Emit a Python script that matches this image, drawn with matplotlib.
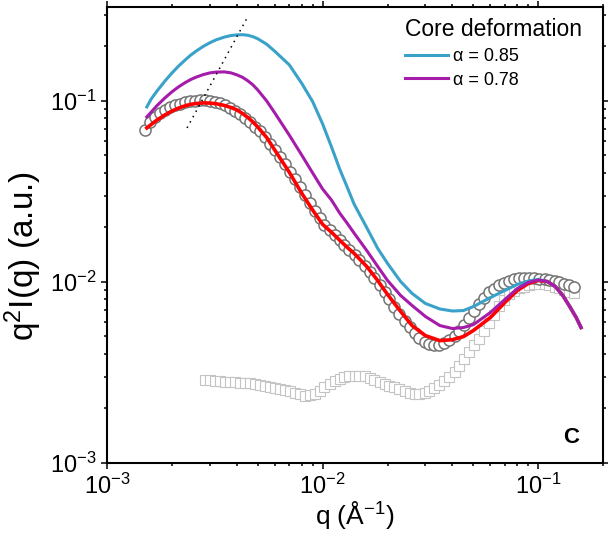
import matplotlib
matplotlib.use('Agg')
import matplotlib.pyplot as plt
from matplotlib.lines import Line2D

plt.rcParams['font.family'] = ['Liberation Sans', 'DejaVu Sans']
plt.rcParams['mathtext.default'] = 'regular'

# measured data, open circles (dark gray)
circ_q = [0.00150, 0.00158, 0.00167, 0.00176, 0.00186, 0.00196, 0.00206, 0.00218, 0.00230, 0.00242,
          0.00256, 0.00270, 0.00284, 0.00300, 0.00316, 0.00334, 0.00352, 0.00371, 0.00391, 0.00413,
          0.00435, 0.00459, 0.00484, 0.00511, 0.00539, 0.00568, 0.00600, 0.00632, 0.00667, 0.00704,
          0.00742, 0.00783, 0.00826, 0.00871, 0.00918, 0.00969, 0.0102, 0.0108, 0.0114, 0.0120,
          0.0126, 0.0133, 0.0141, 0.0148, 0.0157, 0.0165, 0.0174, 0.0184, 0.0194, 0.0204,
          0.0215, 0.0227, 0.0240, 0.0253, 0.0267, 0.0281, 0.0297, 0.0313, 0.0330, 0.0348,
          0.0367, 0.0387, 0.0409, 0.0431, 0.0455, 0.0479, 0.0506, 0.0533, 0.0562, 0.0593,
          0.0626, 0.0660, 0.0696, 0.0734, 0.0774, 0.0817, 0.0861, 0.0909, 0.0958, 0.101,
          0.107, 0.112, 0.119, 0.125, 0.132, 0.139, 0.147]
circ_I = [0.0691, 0.0765, 0.0816, 0.0858, 0.0892, 0.0920, 0.0944, 0.0963, 0.0981, 0.0994,
          0.1000, 0.1006, 0.1006, 0.1000, 0.0988, 0.0968, 0.0944, 0.0914, 0.0880, 0.0842,
          0.0800, 0.0760, 0.0718, 0.0678, 0.0628, 0.0581, 0.0535, 0.0490, 0.0448, 0.0407,
          0.0370, 0.0334, 0.0301, 0.0272, 0.0246, 0.0225, 0.0207, 0.0193, 0.0181, 0.0170,
          0.0159, 0.0150, 0.0141, 0.0132, 0.0123, 0.0114, 0.01045, 0.00956, 0.00875, 0.00800,
          0.00731, 0.00669, 0.00612, 0.00567, 0.00525, 0.00493, 0.00468, 0.00453, 0.00448, 0.00450,
          0.00462, 0.00480, 0.00505, 0.00539, 0.00581, 0.00636, 0.00695, 0.00760, 0.00820, 0.00875,
          0.00920, 0.00956, 0.00987, 0.01013, 0.01032, 0.01045, 0.01052, 0.01052, 0.01045, 0.01039,
          0.01032, 0.01019, 0.01006, 0.00994, 0.00975, 0.00956, 0.00932]

# measured data, open squares (light gray)
sq_q = [0.00284, 0.00300, 0.00316, 0.00334, 0.00352, 0.00371, 0.00391, 0.00413, 0.00435, 0.00459,
        0.00484, 0.00511, 0.00539, 0.00568, 0.00600, 0.00632, 0.00667, 0.00704, 0.00742, 0.00783,
        0.00826, 0.00871, 0.00918, 0.00969, 0.0102, 0.0108, 0.0114, 0.0120, 0.0126, 0.0133,
        0.0141, 0.0148, 0.0157, 0.0165, 0.0174, 0.0184, 0.0194, 0.0204, 0.0215, 0.0227,
        0.0240, 0.0253, 0.0267, 0.0281, 0.0297, 0.0313, 0.0330, 0.0348, 0.0367, 0.0387,
        0.0409, 0.0431, 0.0455, 0.0479, 0.0506, 0.0533, 0.0562, 0.0593, 0.0626, 0.0660,
        0.0696, 0.0734, 0.0774, 0.0817, 0.0861, 0.0909, 0.0958, 0.101, 0.107, 0.112,
        0.119, 0.125, 0.132, 0.139, 0.147]
sq_I = [0.002884, 0.002866, 0.002847, 0.002829, 0.002811, 0.002811, 0.002793, 0.002775, 0.002775, 0.002757,
        0.002740, 0.002705, 0.002670, 0.002637, 0.002603, 0.002570, 0.002537, 0.002489, 0.002442, 0.002396,
        0.002350, 0.002365, 0.002412, 0.002505, 0.002620, 0.002722, 0.002829, 0.002921, 0.002977, 0.003015,
        0.003034, 0.003034, 0.003015, 0.002958, 0.002884, 0.002811, 0.002740, 0.002670, 0.002620, 0.002554,
        0.002489, 0.002442, 0.002412, 0.002412, 0.002427, 0.002489, 0.002586, 0.002705, 0.002829, 0.002996,
        0.003193, 0.003447, 0.003745, 0.004095, 0.004477, 0.004864, 0.005390, 0.005966, 0.006605, 0.007362,
        0.007997, 0.008527, 0.008914, 0.009204, 0.009382, 0.009560, 0.009685, 0.009750, 0.009685, 0.009560,
        0.009382, 0.009204, 0.008971, 0.008802, 0.008635]

# model curves
model_q = [0.00153, 0.0016, 0.0017, 0.00185, 0.002, 0.00215, 0.0023, 0.00245, 0.0026, 0.0028,
           0.003, 0.0032, 0.0035, 0.00375, 0.004, 0.00425, 0.0045, 0.00475, 0.005, 0.0055,
           0.006, 0.007, 0.008, 0.009, 0.01, 0.011, 0.012, 0.013, 0.014, 0.016,
           0.018, 0.02, 0.023, 0.026, 0.03, 0.035, 0.04, 0.045, 0.05, 0.06,
           0.07, 0.08, 0.09, 0.1, 0.11, 0.12, 0.13, 0.14, 0.15, 0.158]
fit_I = [0.0709, 0.0740, 0.0782, 0.0835, 0.0879, 0.0913, 0.0939, 0.0958, 0.0968, 0.0975,
         0.0972, 0.0965, 0.0944, 0.0920, 0.0892, 0.0852, 0.0810, 0.0765, 0.0718, 0.0628,
         0.0535, 0.0404, 0.0309, 0.0249, 0.0208, 0.0188, 0.0170, 0.01553, 0.01438, 0.01219,
         0.01019, 0.00853, 0.00687, 0.00574, 0.00505, 0.00474, 0.00480, 0.00499, 0.00539, 0.00636,
         0.00770, 0.00897, 0.00981, 0.01019, 0.01006, 0.00944, 0.00842, 0.00731, 0.00636, 0.00560]
a085_I = [0.0926, 0.1021, 0.1128, 0.1281, 0.1426, 0.1559, 0.1680, 0.1794, 0.1890, 0.2003,
          0.2095, 0.2172, 0.2251, 0.2295, 0.2315, 0.2321, 0.2304, 0.2263, 0.2205, 0.2056,
          0.1880, 0.1583, 0.1250, 0.0988, 0.0746, 0.0556, 0.0420, 0.0334, 0.0269, 0.0200,
          0.01533, 0.01266, 0.01006, 0.00864, 0.00760, 0.00709, 0.00691, 0.00695, 0.00731, 0.00820,
          0.00897, 0.00969, 0.01013, 0.01032, 0.01006, 0.00944, 0.00842, 0.00731, 0.00636, 0.00560]
a078_I = [0.0816, 0.0865, 0.0938, 0.1035, 0.1122, 0.1197, 0.1260, 0.1314, 0.1355, 0.1398,
          0.1428, 0.1442, 0.1446, 0.1429, 0.1393, 0.1350, 0.1291, 0.1226, 0.1150, 0.1000,
          0.0858, 0.0648, 0.0502, 0.0399, 0.0326, 0.0283, 0.0240, 0.0211, 0.0186, 0.01494,
          0.01219, 0.01019, 0.00842, 0.00741, 0.00644, 0.00574, 0.00553, 0.00560, 0.00581, 0.00678,
          0.00800, 0.00920, 0.00994, 0.01026, 0.01006, 0.00944, 0.00842, 0.00731, 0.00636, 0.00560]

# dotted guide line through the peaks
peak_q = [0.00235, 0.00445]
peak_I = [0.0709, 0.285]

blue = '#3AA2C9'
purple = '#A61CAA'

fig = plt.figure(figsize=(6.08, 5.4), dpi=100)
ax = fig.add_axes([0.176, 0.1426, 0.816, 0.8444])

ax.plot(sq_q, sq_I, 's', ms=7, mfc='white', mec='#C4C4C4', mew=0.8, zorder=2)
ax.plot(circ_q, circ_I, 'o', ms=8, mfc='white', mec='#747474', mew=1.1, zorder=3)
ax.plot(model_q, fit_I, '-', color='red', lw=2.6, zorder=4)
ax.plot(model_q, a085_I, '-', color=blue, lw=2.2, zorder=5)
ax.plot(model_q, a078_I, '-', color=purple, lw=2.2, zorder=6)
ax.plot(peak_q, peak_I, color='black', lw=1.1, ls=(0, (1, 3)), zorder=7)

ax.set_xscale('log')
ax.set_yscale('log')
ax.set_xlim(1e-3, 0.2)
ax.set_ylim(1e-3, 0.33)

for s in ax.spines.values():
    s.set_linewidth(1.5)
ax.tick_params(which='both', direction='out', top=True, right=True, labelsize=17, width=1.1)
ax.tick_params(which='major', length=4)
ax.tick_params(which='minor', length=2.5)

ax.set_xlabel('q (Å$^{-1}$)', fontsize=19, labelpad=0)
ax.set_ylabel('q$^2$I(q) (a.u.)', fontsize=24)
ax.yaxis.set_label_coords(-0.126, 0.454)

handles = [Line2D([], [], color=blue, lw=2.2), Line2D([], [], color=purple, lw=2.2)]
leg = ax.legend(handles, ['α = 0.85', 'α = 0.78'], title='Core deformation',
                loc='upper left', bbox_to_anchor=(0.6, 0.975), frameon=False,
                fontsize=13, title_fontsize=16.5, handlelength=2.4, handletextpad=0.3,
                borderpad=0, borderaxespad=0, labelspacing=0.37, alignment='left')

ax.text(0.935, 0.057, 'C', transform=ax.transAxes, fontsize=16, fontweight='bold',
        ha='center', va='center')

fig.savefig('out.png', dpi=100)
